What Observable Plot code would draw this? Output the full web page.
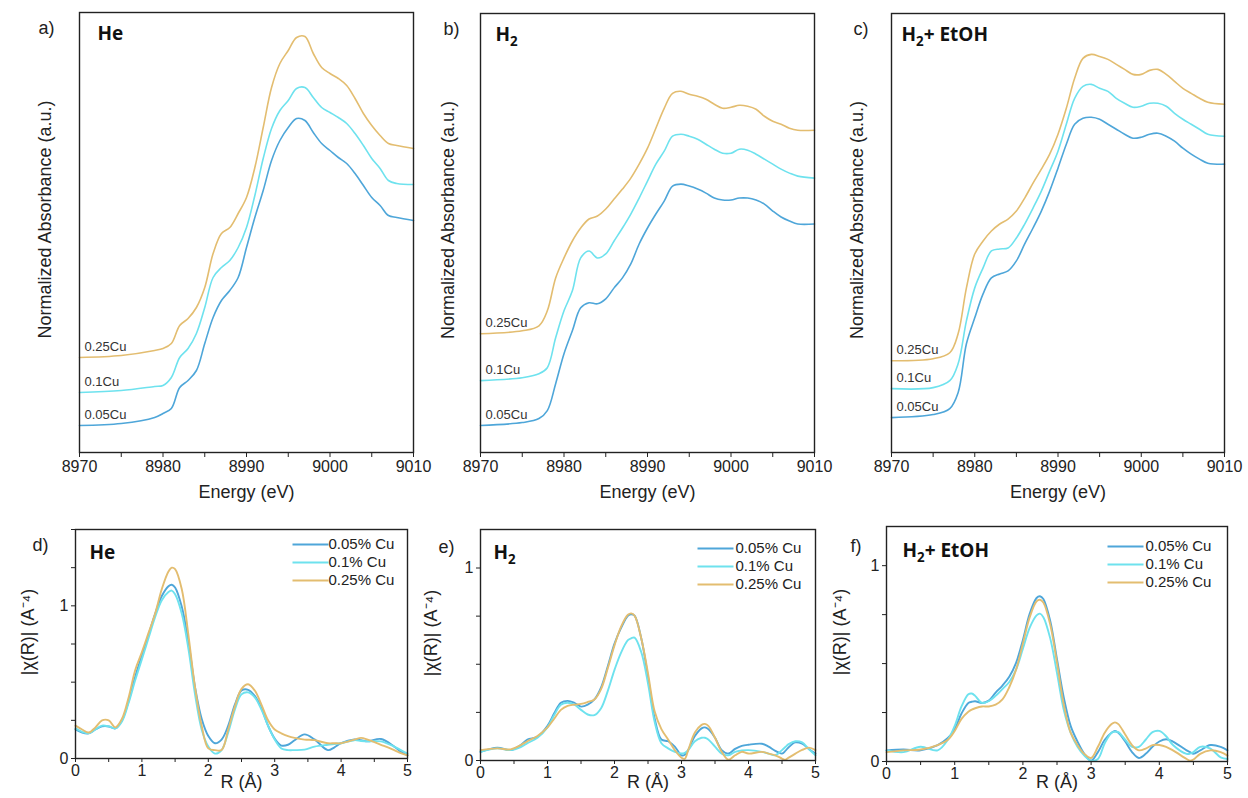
<!DOCTYPE html>
<html><head><meta charset="utf-8">
<script src="https://cdn.jsdelivr.net/npm/d3@7"></script>
<script src="https://cdn.jsdelivr.net/npm/@observablehq/plot@0.6"></script>
<style>
body{margin:0;background:#fff}
#fig{position:relative;width:1248px;height:798px;overflow:hidden;background:#fff}
#fig svg{position:absolute}
</style>
</head><body><div id="fig"></div>
<script>
// ---------- shared ----------
const SERIES = ["0.05Cu", "0.1Cu", "0.25Cu"];
const LEGEND = ["0.05% Cu", "0.1% Cu", "0.25% Cu"];
const COLORS = ["#4ea6d9", "#6ee2ee", "#e3bd70"];
const energyTicks = [8970, 8975, 8980, 8985, 8990, 8995, 9000, 9005, 9010];
const rTicks = [0, 0.5, 1, 1.5, 2, 2.5, 3, 3.5, 4, 4.5, 5];

// ---------- XANES a) He ----------
const energyHe = [8970,8975,8979,8980,8981,8982,8983,8984,8985,8986,8987,8988,8989,8990,8991,8992,8993,8994,8995,8996,8997,8998,8999,9000,9001,9002,9003,9004,9005,9006,9007,9008,9010];
const xanesHe005 = [0.27,0.29,0.35,0.39,0.44,0.65,0.72,0.82,1.09,1.35,1.52,1.62,1.75,2.05,2.35,2.62,2.92,3.12,3.25,3.34,3.32,3.20,3.09,3.02,2.95,2.89,2.79,2.67,2.55,2.47,2.37,2.35,2.32];
const xanesHe01  = [0.60,0.62,0.66,0.67,0.75,0.95,1.04,1.19,1.45,1.75,1.85,1.92,2.05,2.25,2.57,2.94,3.24,3.42,3.52,3.64,3.65,3.55,3.45,3.40,3.35,3.29,3.19,3.07,2.94,2.84,2.72,2.69,2.68];
const xanesHe025 = [0.95,0.97,1.02,1.04,1.09,1.27,1.34,1.45,1.65,1.99,2.19,2.25,2.39,2.55,2.85,3.25,3.65,3.89,4.02,4.15,4.16,3.99,3.85,3.79,3.74,3.67,3.54,3.39,3.27,3.17,3.09,3.07,3.04];

// ---------- XANES b) H2 ----------
const energyH2 = [8970,8975,8977,8978,8979,8980,8981,8982,8983,8984,8985,8986,8987,8988,8989,8990,8991,8992,8993,8994,8995,8996,8997,8998,8999,9000,9001,9002,9003,9004,9005,9006,9007,9008,9010];
const xanesH2005 = [0.27,0.30,0.34,0.42,0.69,0.99,1.22,1.45,1.50,1.49,1.54,1.65,1.75,1.89,2.09,2.25,2.39,2.52,2.67,2.69,2.67,2.64,2.60,2.55,2.53,2.53,2.55,2.55,2.53,2.49,2.42,2.36,2.32,2.29,2.29];
const xanesH201  = [0.72,0.75,0.79,0.85,1.15,1.42,1.62,1.95,2.02,1.95,1.99,2.12,2.25,2.39,2.55,2.72,2.89,3.02,3.17,3.19,3.17,3.14,3.09,3.04,3.00,3.00,3.04,3.03,2.99,2.94,2.89,2.84,2.80,2.77,2.75];
const xanesH2025 = [1.19,1.22,1.27,1.42,1.75,1.95,2.12,2.25,2.34,2.37,2.44,2.54,2.64,2.75,2.89,3.05,3.25,3.45,3.60,3.62,3.59,3.57,3.54,3.49,3.45,3.46,3.48,3.47,3.44,3.37,3.32,3.29,3.25,3.23,3.23];

// ---------- XANES c) H2 + EtOH ----------
const energyEt = energyH2;
const xanesEt005 = [0.35,0.38,0.44,0.60,1.09,1.35,1.59,1.75,1.79,1.82,1.92,2.09,2.25,2.42,2.62,2.85,3.09,3.29,3.35,3.36,3.34,3.29,3.24,3.19,3.15,3.16,3.19,3.20,3.17,3.12,3.05,2.99,2.94,2.90,2.89];
const xanesEt01  = [0.64,0.65,0.72,0.89,1.32,1.65,1.85,2.02,2.04,2.05,2.15,2.29,2.45,2.62,2.82,3.02,3.29,3.55,3.67,3.69,3.65,3.62,3.55,3.50,3.46,3.47,3.50,3.50,3.47,3.40,3.34,3.29,3.24,3.19,3.17];
const xanesEt025 = [0.92,0.94,1.00,1.19,1.65,1.99,2.12,2.22,2.29,2.34,2.42,2.55,2.70,2.84,2.99,3.19,3.45,3.75,3.95,3.99,3.97,3.94,3.89,3.84,3.79,3.79,3.83,3.84,3.79,3.72,3.65,3.60,3.55,3.51,3.49];

// ---------- EXAFS d) He ----------
const rHe = [0,0.1,0.2,0.3,0.4,0.5,0.6,0.7,0.8,0.9,1.0,1.1,1.2,1.3,1.4,1.45,1.5,1.6,1.7,1.8,1.9,2.0,2.1,2.2,2.3,2.4,2.5,2.6,2.7,2.8,2.9,3.0,3.1,3.2,3.3,3.45,3.6,3.8,3.9,4.0,4.2,4.3,4.4,4.6,4.8,4.9,5.0];
const chiHe005 = [0.19,0.17,0.165,0.19,0.21,0.21,0.197,0.25,0.376,0.537,0.674,0.81,0.95,1.064,1.128,1.138,1.12,0.995,0.766,0.468,0.26,0.147,0.10,0.124,0.215,0.353,0.445,0.45,0.41,0.33,0.215,0.13,0.085,0.09,0.12,0.158,0.125,0.055,0.073,0.10,0.124,0.12,0.112,0.128,0.078,0.044,0.02];
const chiHe01  = [0.197,0.175,0.165,0.19,0.215,0.21,0.197,0.243,0.365,0.514,0.651,0.789,0.927,1.037,1.09,1.10,1.076,0.95,0.72,0.42,0.19,0.078,0.032,0.055,0.17,0.32,0.42,0.433,0.40,0.32,0.215,0.124,0.066,0.055,0.055,0.058,0.078,0.09,0.095,0.10,0.12,0.115,0.112,0.112,0.078,0.055,0.032];
const chiHe025 = [0.215,0.19,0.17,0.204,0.25,0.25,0.204,0.26,0.40,0.58,0.697,0.823,0.95,1.11,1.225,1.25,1.24,1.11,0.81,0.468,0.215,0.066,0.055,0.055,0.19,0.34,0.456,0.486,0.445,0.353,0.25,0.19,0.165,0.147,0.135,0.124,0.12,0.10,0.10,0.10,0.124,0.135,0.124,0.09,0.055,0.035,0.02];

// ---------- EXAFS e) H2 ----------
const rH2 = [0,0.25,0.45,0.6,0.7,0.85,1.0,1.1,1.2,1.3,1.4,1.5,1.6,1.7,1.8,1.9,2.0,2.1,2.2,2.25,2.3,2.4,2.5,2.6,2.7,2.8,2.9,3.0,3.05,3.1,3.2,3.3,3.35,3.4,3.5,3.6,3.7,3.8,3.9,4.0,4.2,4.3,4.4,4.5,4.55,4.6,4.7,4.8,4.9,5.0];
const chiH2005 = [0.045,0.067,0.054,0.08,0.109,0.123,0.18,0.245,0.30,0.31,0.30,0.28,0.29,0.317,0.38,0.49,0.607,0.69,0.752,0.76,0.752,0.634,0.435,0.217,0.109,0.10,0.072,0.027,0.03,0.054,0.127,0.167,0.172,0.163,0.118,0.054,0.036,0.06,0.076,0.082,0.087,0.072,0.05,0.036,0.05,0.069,0.094,0.087,0.06,0.036];
const chiH201  = [0.045,0.063,0.054,0.07,0.09,0.118,0.172,0.236,0.29,0.30,0.29,0.263,0.239,0.236,0.272,0.362,0.471,0.562,0.625,0.635,0.638,0.562,0.40,0.20,0.09,0.063,0.045,0.036,0.04,0.054,0.10,0.118,0.118,0.109,0.072,0.036,0.027,0.045,0.052,0.054,0.045,0.036,0.027,0.054,0.07,0.085,0.10,0.094,0.06,0.027];
const chiH2025 = [0.054,0.063,0.058,0.08,0.10,0.127,0.172,0.217,0.263,0.284,0.29,0.294,0.304,0.317,0.371,0.48,0.598,0.697,0.757,0.764,0.752,0.634,0.453,0.254,0.163,0.109,0.054,0.014,0.009,0.054,0.145,0.185,0.19,0.18,0.118,0.045,0.004,0.027,0.045,0.036,0.045,0.036,0.027,0.01,0.004,0.015,0.036,0.055,0.067,0.054];

// ---------- EXAFS f) H2 + EtOH ----------
const rEt = [0,0.25,0.5,0.75,0.9,1.0,1.1,1.2,1.25,1.3,1.4,1.5,1.6,1.7,1.8,1.9,2.0,2.1,2.2,2.25,2.3,2.4,2.5,2.6,2.7,2.8,2.9,3.0,3.1,3.2,3.3,3.35,3.4,3.5,3.6,3.7,3.8,3.9,4.0,4.1,4.2,4.4,4.45,4.5,4.6,4.75,4.9,5.0];
const chiEt005 = [0.057,0.061,0.057,0.084,0.12,0.165,0.245,0.299,0.305,0.308,0.299,0.311,0.352,0.388,0.433,0.504,0.621,0.755,0.835,0.844,0.83,0.719,0.522,0.326,0.182,0.102,0.039,0.004,0.048,0.111,0.147,0.156,0.147,0.102,0.048,0.018,0.039,0.075,0.102,0.114,0.102,0.057,0.048,0.039,0.057,0.084,0.075,0.057];
const chiEt01  = [0.057,0.048,0.075,0.057,0.111,0.182,0.281,0.343,0.347,0.335,0.299,0.308,0.335,0.37,0.406,0.469,0.576,0.683,0.746,0.755,0.737,0.63,0.451,0.263,0.147,0.075,0.03,0.004,0.013,0.093,0.147,0.152,0.15,0.111,0.075,0.075,0.111,0.15,0.156,0.129,0.084,0.039,0.04,0.048,0.075,0.066,0.021,0.013];
const chiEt025 = [0.048,0.057,0.061,0.084,0.111,0.156,0.218,0.254,0.265,0.272,0.281,0.281,0.29,0.317,0.379,0.469,0.603,0.737,0.818,0.826,0.812,0.701,0.504,0.29,0.147,0.084,0.039,0.018,0.075,0.147,0.191,0.2,0.191,0.138,0.084,0.057,0.066,0.084,0.084,0.075,0.057,0.013,0.004,0.01,0.039,0.057,0.048,0.030];

// ---------- rendering ----------
const FONT = "'Liberation Sans', Arial, sans-serif";
const TITLE_FONT = "'Open Sans', 'Liberation Sans', sans-serif";
const fig = document.getElementById("fig");

function rowsOf(xs, ys) {
  return SERIES.flatMap((s, k) => xs.map((x, i) => ({x, y: ys[k][i], s})));
}

function subscript(svg) {
  svg.querySelectorAll("text").forEach(t => {
    const str = t.textContent;
    if (!str.includes("\u2082")) return;
    const parts = str.split("\u2082");
    while (t.firstChild) t.removeChild(t.firstChild);
    const NS = "http://www.w3.org/2000/svg";
    parts.forEach((p, i) => {
      if (i > 0) {
        const s = document.createElementNS(NS, "tspan");
        s.setAttribute("dy", "5");
        s.setAttribute("font-size", "70%");
        s.textContent = "2";
        t.appendChild(s);
      }
      if (p.length) {
        const n = document.createElementNS(NS, "tspan");
        if (i > 0) n.setAttribute("dy", "-5");
        n.textContent = p;
        t.appendChild(n);
      }
    });
  });
}

function place(svg, left, top) {
  svg.style.left = left + "px";
  svg.style.top = top + "px";
  subscript(svg);
  fig.appendChild(svg);
}

function topPanel(c) {
  const rows = rowsOf(c.xs, c.ys);
  const first = SERIES.map((s, k) => ({x: c.xs[0], y: c.ys[k][0], s}));
  const svg = Plot.plot({
    width: c.w, height: 510,
    marginLeft: c.ml, marginRight: c.mr, marginTop: c.mt, marginBottom: 58,
    style: {background: "transparent", overflow: "visible", fontFamily: FONT, fontSize: "16px", color: "#222"},
    x: {domain: [8970, 9010]},
    y: {domain: [0, 4.4], axis: null},
    color: {domain: SERIES, range: COLORS},
    marks: [
      Plot.axisX({ticks: energyTicks, tickFormat: d => d % 10 === 0 ? String(d) : "", tickSize: 5, tickPadding: 3, label: null}),
      Plot.line(rows, {x: "x", y: "y", z: "s", stroke: "s", strokeWidth: 1.6, curve: "catmull-rom"}),
      Plot.text(first, {x: "x", y: "y", text: "s", dx: 5, dy: -11, textAnchor: "start", fontSize: 13, fill: "#333"}),
      Plot.frame({stroke: "#222", strokeWidth: 1.4}),
      Plot.text(["Energy (eV)"], {text: d => d, frameAnchor: "bottom", dy: 45, textAnchor: "middle", fontSize: 18, fill: "#222"}),
      Plot.text(["Normalized Absorbance (a.u.)"], {text: d => d, frameAnchor: "left", rotate: -90, textAnchor: "middle", lineAnchor: "middle", dx: c.yDx, dy: -13, fontSize: 18, fill: "#222"}),
      Plot.text([c.letter], {text: d => d, frameAnchor: "top-left", dx: c.letterDx, dy: 16, textAnchor: "start", lineAnchor: "middle", fontSize: 18, fill: "#222"}),
      Plot.text([c.title], {text: d => d, frameAnchor: "top-left", dx: c.titleDx, dy: 21, textAnchor: "start", lineAnchor: "middle", fontSize: 19, fontWeight: "bold", fontFamily: TITLE_FONT, fill: "#111"})
    ]
  });
  place(svg, c.left, 0);
}

const lineSymbol = {draw(ctx) { ctx.moveTo(-18, 0); ctx.lineTo(18, 0); }};

function bottomPanel(c) {
  const rows = rowsOf(c.xs, c.ys);
  const yTicks = d3.range(0, c.ymax + 0.001, 0.25);
  const legendMarks = SERIES.flatMap((s, k) => [
    Plot.dot([s], {frameAnchor: "top-right", dx: c.swDx, dy: c.legDy + k * 18, symbol: lineSymbol, stroke: COLORS[k], fill: "none", strokeWidth: 2.2}),
    Plot.text([LEGEND[k]], {text: d => d, frameAnchor: "top-right", dx: c.legDx, dy: c.legDy + k * 18, textAnchor: "start", lineAnchor: "middle", fontSize: 15, fill: "#222"})
  ]);
  const svg = Plot.plot({
    width: c.w, height: 288,
    marginLeft: c.ml, marginRight: c.mr, marginTop: c.mt, marginBottom: c.mb,
    style: {background: "transparent", overflow: "visible", fontFamily: FONT, fontSize: "16px", color: "#222"},
    x: {domain: [0, 5]},
    y: {domain: [0, c.ymax]},
    color: {domain: SERIES, range: COLORS},
    marks: [
      Plot.axisX({ticks: rTicks, tickFormat: d => Number.isInteger(d) ? String(d) : "", tickSize: 4, tickPadding: 2, label: null}),
      Plot.axisY({ticks: yTicks, tickFormat: d => (d === 0 || d === 1) ? String(d) : "", tickSize: 4, tickPadding: 3, label: null}),
      Plot.line(rows, {x: "x", y: "y", z: "s", stroke: "s", strokeWidth: 1.9, curve: "catmull-rom"}),
      Plot.frame({stroke: "#222", strokeWidth: 1.4}),
      ...legendMarks,
      Plot.text(["R (\u00c5)"], {text: d => d, frameAnchor: "bottom", dy: c.xlDy, textAnchor: "middle", fontSize: 18, fill: "#222"}),
      Plot.text(["|\u03c7(R)| (A\u207b\u2074)"], {text: d => d, frameAnchor: "left", rotate: -90, textAnchor: "middle", lineAnchor: "middle", dx: c.yDx, dy: -12, fontSize: 18, fill: "#222"}),
      Plot.text([c.letter], {text: d => d, frameAnchor: "top-left", dx: c.letterDx, dy: c.letterDy, textAnchor: "start", lineAnchor: "middle", fontSize: 18, fill: "#222"}),
      Plot.text([c.title], {text: d => d, frameAnchor: "top-left", dx: c.titleDx, dy: c.titleDy, textAnchor: "start", lineAnchor: "middle", fontSize: 19, fontWeight: "bold", fontFamily: TITLE_FONT, fill: "#111"})
    ]
  });
  place(svg, c.left, 510);
}

topPanel({left: 0, w: 416, ml: 79, mr: 3, mt: 12, xs: energyHe, ys: [xanesHe005, xanesHe01, xanesHe025], letter: "a)", title: "He", letterDx: -41, titleDx: 18, yDx: -34});
topPanel({left: 416, w: 416, ml: 64, mr: 18, mt: 13, xs: energyH2, ys: [xanesH2005, xanesH201, xanesH2025], letter: "b)", title: "H\u2082", letterDx: -37, titleDx: 15, yDx: -32});
topPanel({left: 832, w: 416, ml: 59, mr: 24, mt: 13, xs: energyEt, ys: [xanesEt005, xanesEt01, xanesEt025], letter: "c)", title: "H\u2082+ EtOH", letterDx: -38, titleDx: 10, yDx: -34});

bottomPanel({left: 0, w: 416, ml: 75, mr: 9, mt: 19, mb: 40, ymax: 1.5, xs: rHe, ys: [chiHe005, chiHe01, chiHe025], letter: "d)", title: "He", letterDx: -43, letterDy: 16, titleDx: 14, titleDy: 23, yDx: -47, xlDy: 29, swDx: -97, legDx: -79, legDy: 15});
bottomPanel({left: 416, w: 416, ml: 64, mr: 17, mt: 19, mb: 38, ymax: 1.2, xs: rH2, ys: [chiH2005, chiH201, chiH2025], letter: "e)", title: "H\u2082", letterDx: -42, letterDy: 18, titleDx: 13, titleDy: 23, yDx: -49, xlDy: 27, swDx: -100, legDx: -80, legDy: 19});
bottomPanel({left: 832, w: 416, ml: 54, mr: 21, mt: 16, mb: 37, ymax: 1.2, xs: rEt, ys: [chiEt005, chiEt01, chiEt025], letter: "f)", title: "H\u2082+ EtOH", letterDx: -36, letterDy: 20, titleDx: 16, titleDy: 24, yDx: -46, xlDy: 26, swDx: -102, legDx: -82, legDy: 20});
</script></body></html>
